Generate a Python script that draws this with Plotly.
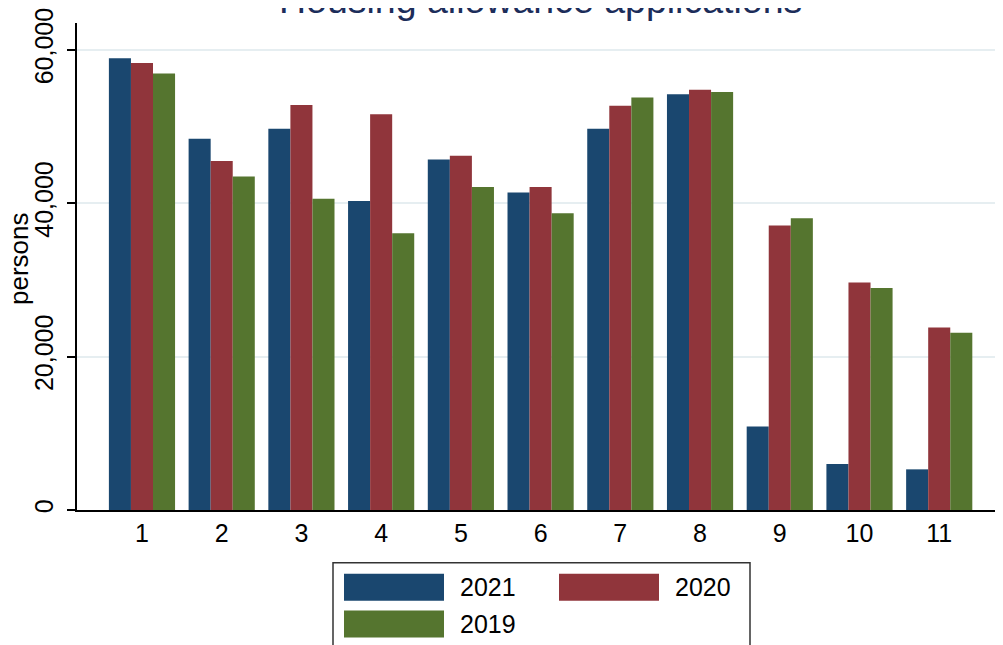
import plotly.graph_objects as go

# ---- data ----
categories = [1, 2, 3, 4, 5, 6, 7, 8, 9, 10, 11]
series_names = ["2021", "2020", "2019"]
values_2021 = [58900, 48400, 49700, 40300, 45700, 41400, 49700, 54200, 10900, 6000, 5300]
values_2020 = [58300, 45500, 52800, 51600, 46200, 42100, 52700, 54800, 37100, 29650, 23800]
values_2019 = [56900, 43500, 40600, 36100, 42100, 38700, 53800, 54500, 38050, 28950, 23100]
y_tick_vals = [0, 20000, 40000, 60000]
y_tick_text = ["0", "20,000", "40,000", "60,000"]
title_text = "Housing allowance applications"
y_title = "persons"

colors = ["#1a476f", "#90353b", "#55752f"]
FONT = "Liberation Sans, Arial, sans-serif"

# page body has an 8px margin, so the figure is shifted by OFF in the window
OFF = 8
W, H = 1003 - OFF, 645 - OFF
L, R, T, B = 77 - OFF, 0, 21 - OFF, 135
PW, PH = W - L - R, H - T - B


def px_x(px):
    return (px - OFF - L) / PW


def px_y(py):
    return (H - B - (py - OFF)) / PH


fig = go.Figure()
for name, vals, col in zip(series_names, [values_2021, values_2020, values_2019], colors):
    fig.add_trace(go.Bar(x=categories, y=vals, name=name, marker=dict(color=col, line=dict(width=0)),
                         showlegend=False))

fig.update_layout(
    width=W, height=H,
    margin=dict(l=L, r=R, t=T, b=B, pad=0),
    paper_bgcolor="white", plot_bgcolor="white",
    barmode="group", bargap=0.17, bargroupgap=0,
    font=dict(family=FONT, size=25, color="black"),
    xaxis=dict(range=[0.185, 11.8], tickmode="array", tickvals=categories,
               ticktext=[str(c) for c in categories], showgrid=False, zeroline=False,
               showline=True, linecolor="black", linewidth=1.5, ticks="",
               tickfont=dict(size=25, color="black")),
    yaxis=dict(range=[0, 63500], tickmode="array", tickvals=y_tick_vals, ticktext=y_tick_text,
               tickangle=-90, ticks="outside", ticklen=8, tickwidth=1.5, tickcolor="black",
               ticklabelstandoff=4, ticklabeloverflow="allow",
               showline=True, linecolor="black", linewidth=1.5, zeroline=False,
               showgrid=True, gridcolor="#e6eef1", gridwidth=1.5,
               tickfont=dict(size=25, color="black")),
)

annotations = [
    dict(text=title_text, xref="paper", yref="paper", x=0.5, y=1, xanchor="center",
         yanchor="bottom", yshift=0, showarrow=False,
         font=dict(family=FONT, size=37.5, color="#1c2d5a")),
    dict(text=y_title, xref="paper", yref="paper", x=px_x(19), y=px_y(258),
         xanchor="center", yanchor="middle", textangle=-90, showarrow=False,
         font=dict(family=FONT, size=26, color="black")),
]

# ---- manual legend (boxed, at the bottom) ----
shapes = [dict(type="rect", xref="paper", yref="paper",
               x0=px_x(333), x1=px_x(750), y0=px_y(660), y1=px_y(563),
               line=dict(color="#333333", width=1.5), fillcolor="white", layer="above")]
legend_pos = [(344, 574), (559, 574), (344, 611)]
for name, col, (sx, sy) in zip(series_names, colors, legend_pos):
    shapes.append(dict(type="rect", xref="paper", yref="paper",
                       x0=px_x(sx), x1=px_x(sx + 100), y0=px_y(sy + 27), y1=px_y(sy),
                       line=dict(width=0), fillcolor=col, layer="above"))
    annotations.append(dict(text=name, xref="paper", yref="paper", x=px_x(sx + 114),
                            y=px_y(sy + 13.5), xanchor="left", yanchor="middle",
                            showarrow=False, font=dict(family=FONT, size=25, color="black")))
fig.update_layout(shapes=shapes, annotations=annotations)

fig.write_html("out.html")
